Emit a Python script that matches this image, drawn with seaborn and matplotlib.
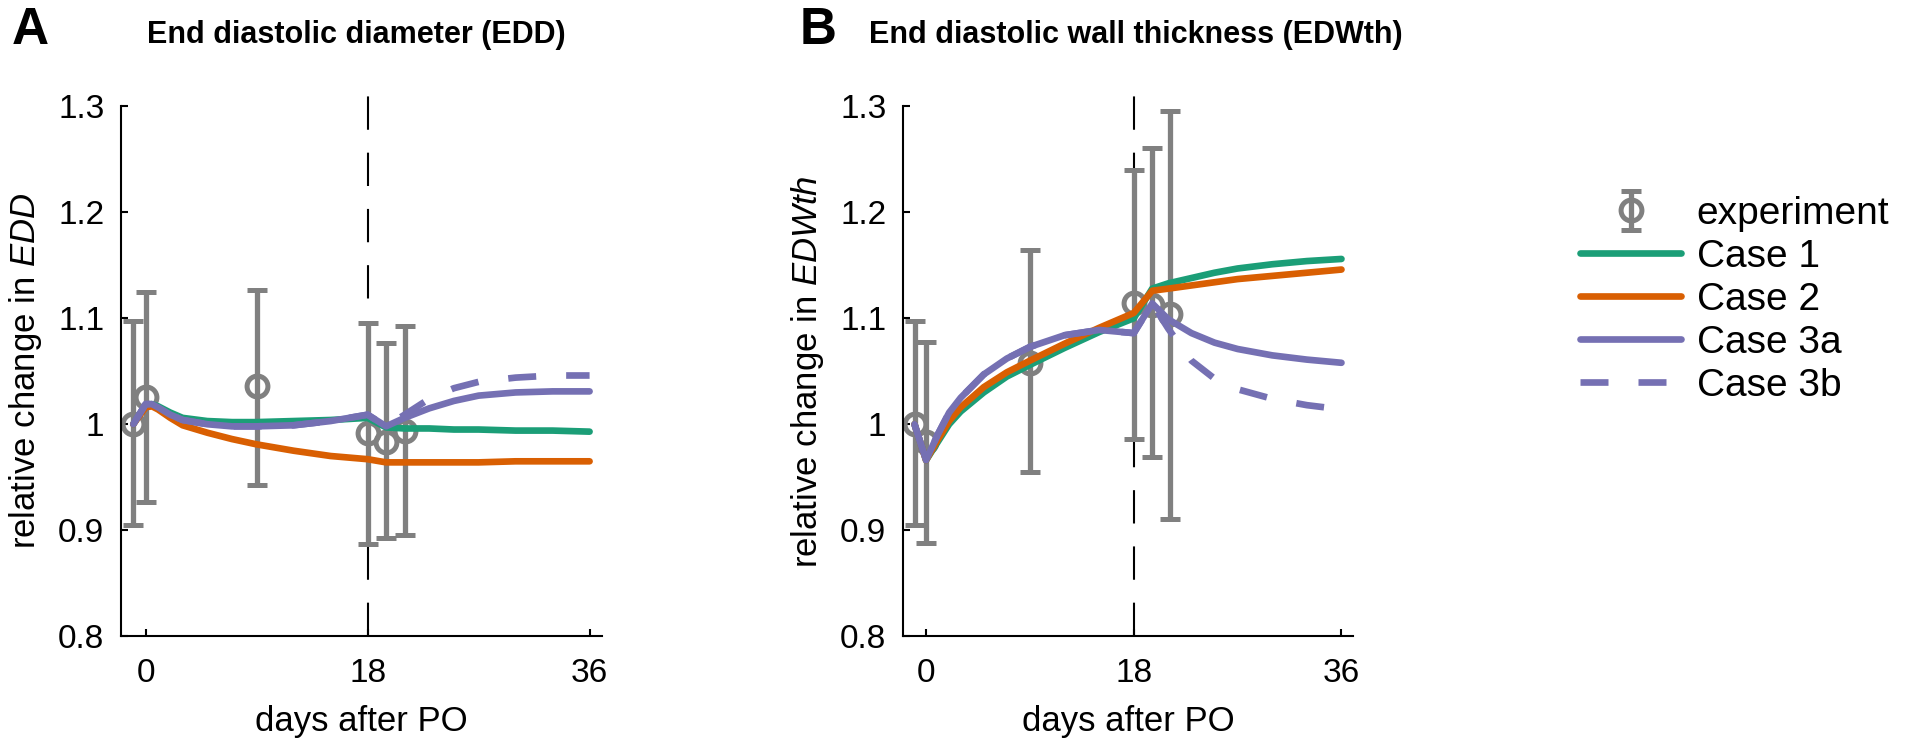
"""Relative change in EDD and EDWth after pressure overload: experiment vs model cases."""

import matplotlib.pyplot as plt
import numpy as np
import pandas as pd
import seaborn as sns
from matplotlib.lines import Line2D

# ---- experiment (mean +/- sd) ----
exp_days_a = [-1, 0, 9, 18, 19.5, 21]
exp_mean_a = [1.000, 1.026, 1.036, 0.992, 0.983, 0.994]
exp_low_a = [0.905, 0.927, 0.943, 0.887, 0.893, 0.895]
exp_high_a = [1.097, 1.125, 1.127, 1.096, 1.077, 1.093]

exp_days_b = [-1, 0, 9, 18, 19.6, 21.1]
exp_mean_b = [1.000, 0.983, 1.058, 1.114, 1.113, 1.104]
exp_low_b = [0.905, 0.888, 0.955, 0.986, 0.969, 0.911]
exp_high_b = [1.097, 1.078, 1.164, 1.240, 1.261, 1.296]

# ---- model curves, panel A (EDD) ----
days_a = [-1, 0, 0.5, 1, 2, 3, 5, 7, 9, 12, 15, 18, 19.5, 21, 23, 25, 27, 30, 33, 36]
case1_a = [1.000, 1.018, 1.019, 1.017, 1.011, 1.006, 1.003, 1.002, 1.002, 1.003,
           1.004, 1.006, 0.997, 0.996, 0.996, 0.995, 0.995, 0.994, 0.994, 0.993]
case2_a = [1.000, 1.016, 1.017, 1.014, 1.006, 0.999, 0.992, 0.986, 0.981, 0.975,
           0.970, 0.967, 0.964, 0.964, 0.964, 0.964, 0.964, 0.965, 0.965, 0.965]
case3a_a = [1.000, 1.019, 1.019, 1.016, 1.009, 1.004, 1.000, 0.998, 0.998, 0.999,
            1.003, 1.009, 0.998, 1.006, 1.015, 1.022, 1.027, 1.030, 1.031, 1.031]
case3b_a = [1.000, 1.019, 1.019, 1.016, 1.009, 1.004, 1.000, 0.998, 0.998, 0.999,
            1.003, 1.009, 0.998, 1.009, 1.024, 1.034, 1.040, 1.044, 1.046, 1.046]

# ---- model curves, panel B (EDWth) ----
days_b = [-1, 0, 1, 2, 3, 5, 7, 9, 12, 15, 18, 19.6, 21, 23, 25, 27, 30, 33, 36]
case1_b = [1.000, 0.966, 0.983, 1.000, 1.012, 1.030, 1.045, 1.056, 1.072, 1.087,
           1.100, 1.128, 1.133, 1.138, 1.143, 1.147, 1.151, 1.154, 1.156]
case2_b = [1.000, 0.966, 0.985, 1.003, 1.016, 1.035, 1.049, 1.060, 1.076, 1.091,
           1.105, 1.126, 1.128, 1.131, 1.134, 1.137, 1.140, 1.143, 1.146]
case3a_b = [1.000, 0.966, 0.990, 1.011, 1.025, 1.047, 1.062, 1.073, 1.084, 1.089,
            1.086, 1.114, 1.099, 1.086, 1.077, 1.071, 1.065, 1.061, 1.058]
case3b_b = [1.000, 0.966, 0.990, 1.011, 1.025, 1.047, 1.062, 1.073, 1.084, 1.089,
            1.086, 1.114, 1.090, 1.060, 1.043, 1.033, 1.024, 1.018, 1.014]

case_names = ["Case 1", "Case 2", "Case 3a", "Case 3b"]
x_ticks = [0, 18, 36]
y_ticks = [0.8, 0.9, 1.0, 1.1, 1.2, 1.3]
y_ticklabels = ["0.8", "0.9", "1", "1.1", "1.2", "1.3"]

sns.set_theme(style="ticks")
plt.rcParams["font.family"] = ["Liberation Sans", "DejaVu Sans"]
plt.rcParams["mathtext.fontset"] = "custom"
plt.rcParams["mathtext.it"] = "Liberation Sans:italic"
plt.rcParams["mathtext.rm"] = "Liberation Sans"
plt.rcParams["text.color"] = "black"
plt.rcParams["axes.labelcolor"] = "black"

dark2 = sns.color_palette("Dark2", 3)
palette = {"Case 1": dark2[0], "Case 2": dark2[1], "Case 3a": dark2[2], "Case 3b": dark2[2]}
dash_map = {"Case 1": "", "Case 2": "", "Case 3a": "", "Case 3b": (4.2, 4.5)}
grey = "#808080"
LW = 4.8


def long_form(days, curves):
    frames = [pd.DataFrame({"day": days, "value": vals, "case": name})
              for name, vals in zip(case_names, curves)]
    return pd.concat(frames, ignore_index=True)


def draw_panel(ax, days, curves, e_days, e_mean, e_low, e_high, ylabel):
    e_mean = np.array(e_mean)
    yerr = [e_mean - np.array(e_low), np.array(e_high) - e_mean]
    cont = ax.errorbar(e_days, e_mean, yerr=yerr, fmt="o", color=grey,
                       markerfacecolor="none", markersize=15, markeredgewidth=3.6,
                       elinewidth=3.8, capsize=7.5, capthick=4, label="experiment",
                       zorder=2)
    sns.lineplot(data=long_form(days, curves), x="day", y="value", hue="case",
                 style="case", palette=palette, dashes=dash_map, linewidth=LW,
                 estimator=None, errorbar=None, legend=False, ax=ax, zorder=3)
    # vertical dashed line at day 18
    ax.axvline(18, ymin=0, ymax=1.02, color="black", linewidth=1.5,
               dashes=(16, 11), clip_on=False, zorder=1)

    ax.set_xlim(-2, 37)
    ax.set_ylim(0.8, 1.3)
    ax.set_xticks(x_ticks)
    ax.set_yticks(y_ticks)
    ax.set_yticklabels(y_ticklabels)
    ax.tick_params(direction="in", length=5, width=1.5, labelsize=24, colors="black")
    ax.tick_params(axis="y", pad=12)
    ax.tick_params(axis="x", pad=16)
    for side in ["left", "bottom"]:
        ax.spines[side].set_linewidth(1.5)
        ax.spines[side].set_color("black")
    sns.despine(ax=ax)
    ax.set_xlabel("days after PO", fontsize=25, labelpad=11)
    ax.set_ylabel(ylabel, fontsize=25, labelpad=10)
    return cont


fig = plt.figure(figsize=(19.2, 7.44), dpi=100)
ax_a = fig.add_axes([0.063, 0.145, 0.2505, 0.712])
ax_b = fig.add_axes([0.4703, 0.145, 0.2344, 0.712])

exp_handle = draw_panel(ax_a, days_a, [case1_a, case2_a, case3a_a, case3b_a],
                        exp_days_a, exp_mean_a, exp_low_a, exp_high_a,
                        r"relative change in $\mathit{EDD}$")
draw_panel(ax_b, days_b, [case1_b, case2_b, case3a_b, case3b_b],
           exp_days_b, exp_mean_b, exp_low_b, exp_high_b,
           r"relative change in $\mathit{EDWth}$")

# panel letters and titles
fig.text(0.006, 1 - 30 / 744, "A", fontsize=37, fontweight="bold", va="center")
fig.text(147 / 1920, 1 - 35 / 744, "End diastolic diameter (EDD)", fontsize=22,
         fontweight="bold", va="center")
fig.text(800 / 1920, 1 - 30 / 744, "B", fontsize=37, fontweight="bold", va="center")
fig.text(869 / 1920, 1 - 35 / 744, "End diastolic wall thickness (EDWth)", fontsize=22,
         fontweight="bold", va="center")

# legend
handles = [exp_handle]
for name in case_names:
    handles.append(Line2D([], [], color=palette[name], linewidth=LW,
                          dashes=dash_map[name] if dash_map[name] else (None, None)))
fig.legend(handles, ["experiment"] + case_names, loc="upper left",
           bbox_to_anchor=(1580 / 1920, 1 - 196 / 744), frameon=False,
           fontsize=28, handlelength=2.6, handletextpad=0.4, labelspacing=0.18,
           borderpad=0, borderaxespad=0)

fig.savefig("out.png", dpi=100)
